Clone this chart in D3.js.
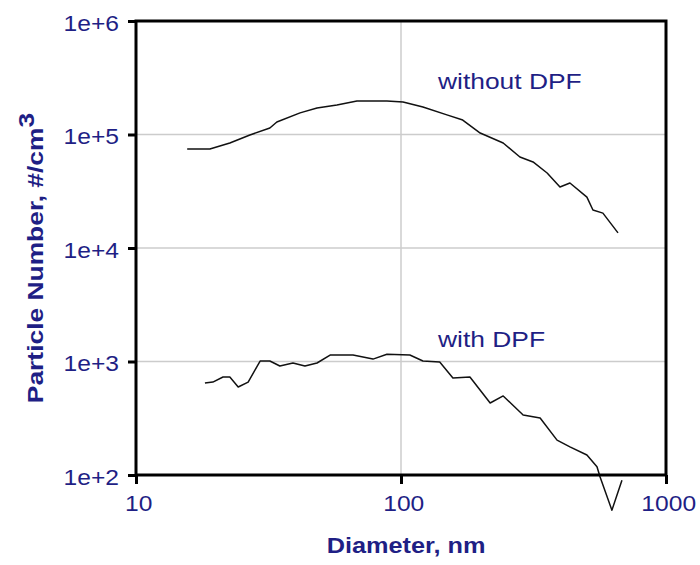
<!DOCTYPE html>
<html>
<head>
<meta charset="utf-8">
<script src="https://cdn.jsdelivr.net/npm/d3@7"></script>
<style>
  html, body { margin: 0; padding: 0; background: #fff; }
  svg { display: block; }
  text { font-family: "Liberation Sans", Arial, sans-serif; }
</style>
</head>
<body>
<svg id="chart" width="700" height="565"></svg>
<script>
// ---- data ----
const xTicks = [10, 100, 1000];
const xTickLabels = ["10", "100", "1000"];
const yTicks = [100, 1000, 10000, 100000, 1000000];
const yTickLabels = ["1e+2", "1e+3", "1e+4", "1e+5", "1e+6"];

const withoutDiameter = [15.6, 19.0, 22.6, 26.9, 32.0, 34.0, 41.6, 48.2, 57.3, 68.2, 88.5, 101.8, 121, 149, 171, 199, 243, 281, 315, 356, 398, 434, 503, 530, 578, 659];
const withoutNumber  = [74500, 74500, 84100, 99000, 114000, 129000, 155000, 171000, 182000, 197000, 197000, 193000, 175000, 149000, 134000, 103000, 84100, 63400, 57300, 45800, 34500, 37400, 28100, 21600, 20300, 13600];

const withDiameter = [18.2, 19.5, 21.3, 22.6, 24.3, 26.5, 29.4, 32.0, 34.9, 39.1, 43.4, 48.2, 54.0, 65.9, 78.4, 88.5, 108, 121, 140, 157, 182, 217, 243, 289, 335, 388, 434, 503, 549, 564, 625, 682];
const withNumber  = [647, 659, 730, 730, 596, 659, 1010, 1010, 912, 970, 912, 970, 1140, 1140, 1050, 1160, 1140, 1010, 990, 716, 730, 431, 497, 338, 318, 203, 177, 150, 118, 96, 49, 90];

const seriesLabels = ["without DPF", "with DPF"];
const xTitle = "Diameter, nm";
const yTitle = "Particle Number, #/cm";

// ---- layout ----
const svg = d3.select("#chart");
const L = 136, R = 666, T = 21, B = 475;
const navy = "#1f1f85";

const x = d3.scaleLog().domain([10, 1000]).range([L, R]);
const y = d3.scaleLog().domain([100, 1000000]).range([B, T]);

// gridlines
svg.append("g").selectAll("line")
  .data(xTicks.slice(1, -1)).join("line")
  .attr("x1", d => x(d)).attr("x2", d => x(d))
  .attr("y1", T).attr("y2", B)
  .attr("stroke", "#cccccc").attr("stroke-width", 1.5);
svg.append("g").selectAll("line")
  .data(yTicks.slice(1, -1)).join("line")
  .attr("x1", L).attr("x2", R)
  .attr("y1", d => y(d)).attr("y2", d => y(d))
  .attr("stroke", "#cccccc").attr("stroke-width", 1.5);

// lines
const line = d3.line().x(d => x(d[0])).y(d => y(d[1]));
const series = [
  d3.zip(withoutDiameter, withoutNumber),
  d3.zip(withDiameter, withNumber)
];
svg.append("g").selectAll("path")
  .data(series).join("path")
  .attr("d", line)
  .attr("fill", "none")
  .attr("stroke", "#111")
  .attr("stroke-width", 1.5)
  .attr("stroke-linejoin", "round");

// frame
svg.append("rect")
  .attr("x", L).attr("y", T)
  .attr("width", R - L).attr("height", B - T)
  .attr("fill", "none").attr("stroke", "#000").attr("stroke-width", 3);

// helper: horizontally stretch a text element in place
function stretch(sel, sx) {
  sel.each(function () {
    const t = d3.select(this);
    const tx = +t.attr("x") || 0, ty = +t.attr("y") || 0;
    t.attr("x", 0).attr("y", 0)
     .attr("transform", `translate(${tx},${ty}) scale(${sx},1)`);
  });
}

// axes
const xAxis = d3.axisBottom(x).tickValues(xTicks)
  .tickFormat((d, i) => xTickLabels[i]).tickSize(9).tickSizeOuter(0).tickPadding(11);
const yAxis = d3.axisLeft(y).tickValues(yTicks)
  .tickFormat((d, i) => yTickLabels[i]).tickSize(8).tickSizeOuter(0).tickPadding(9);

const gx = svg.append("g").attr("transform", `translate(0,${B})`).call(xAxis);
const gy = svg.append("g").attr("transform", `translate(${L},0)`).call(yAxis);
[gx, gy].forEach(g => {
  g.select(".domain").remove();
  g.selectAll(".tick line").attr("stroke", "#000").attr("stroke-width", 3);
  g.selectAll(".tick text").attr("fill", navy).attr("font-size", 22)
   .attr("font-family", "'Liberation Sans', Arial, sans-serif");
});
gy.selectAll(".tick text").attr("dy", "0.42em");
gx.selectAll(".tick text").attr("dx", 2);
stretch(gx.selectAll(".tick text"), 1.12);
stretch(gy.selectAll(".tick text"), 1.12);

// series labels
const lab1 = svg.append("text").attr("x", 438).attr("y", 89).attr("fill", navy)
  .attr("font-size", 22).text(seriesLabels[0]);
const lab2 = svg.append("text").attr("x", 438).attr("y", 347).attr("fill", navy)
  .attr("font-size", 22).text(seriesLabels[1]);
stretch(lab1, 1.2);
stretch(lab2, 1.2);

// axis titles
const xt = svg.append("text").attr("x", 406).attr("y", 553)
  .attr("text-anchor", "middle").attr("fill", navy)
  .attr("font-size", 22).attr("font-weight", "bold").text(xTitle);
stretch(xt, 1.15);

const yt = svg.append("text")
  .attr("transform", `translate(43,258) rotate(-90) scale(1.2,1)`)
  .attr("text-anchor", "middle").attr("fill", navy)
  .attr("font-size", 22).attr("font-weight", "bold");
yt.append("tspan").text(yTitle);
yt.append("tspan").attr("dy", -9).text("3");
</script>
</body>
</html>
